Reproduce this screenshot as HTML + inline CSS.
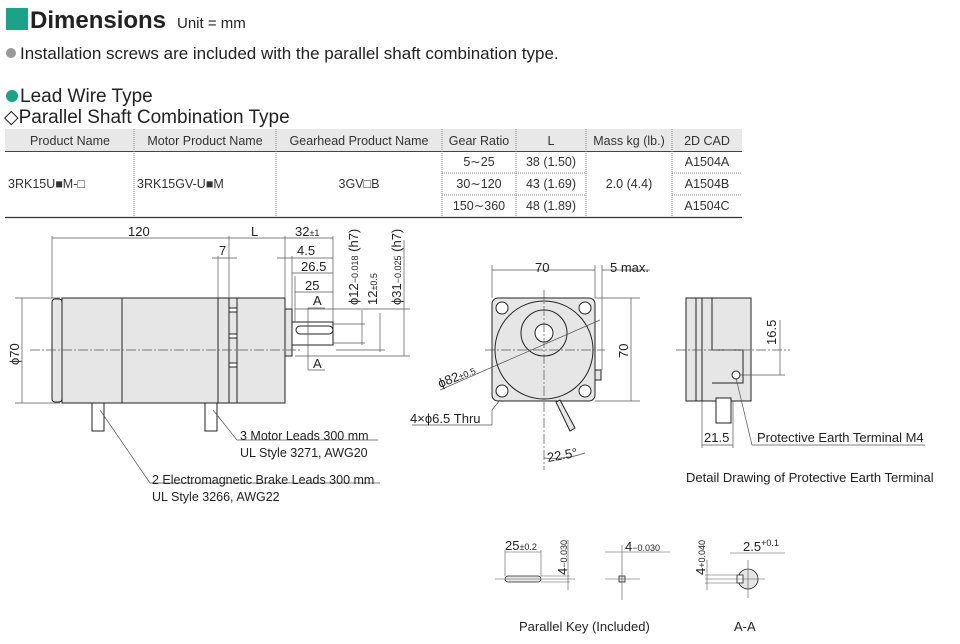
<!DOCTYPE html>
<html><head><meta charset="utf-8"><style>
body{margin:0;background:#fff}
svg{display:block;font-family:"Liberation Sans",sans-serif}
</style></head><body>
<svg width="960" height="644" viewBox="0 0 960 644" xmlns="http://www.w3.org/2000/svg">
<rect x="6" y="8" width="22" height="22" fill="#1aa386"/>
<text x="30" y="28" font-size="24" font-weight="bold" fill="#222">Dimensions</text>
<text x="177" y="28" font-size="15" fill="#222">Unit = mm</text>
<circle cx="11" cy="53" r="5" fill="#999"/>
<text x="20" y="59" font-size="17" fill="#222">Installation screws are included with the parallel shaft combination type.</text>
<circle cx="12" cy="96" r="6" fill="#1aa386"/>
<text x="20" y="102" font-size="19" fill="#222">Lead Wire Type</text>
<text x="4" y="123" font-size="19" fill="#222">◇Parallel Shaft Combination Type</text>
<!-- table -->
<rect x="5" y="129" width="737" height="22" fill="#e8e8e8"/>
<line x1="5" y1="151.5" x2="742" y2="151.5" stroke="#444"/>
<line x1="5" y1="217.5" x2="742" y2="217.5" stroke="#333" stroke-width="1.2"/>
<g stroke="#888" stroke-dasharray="1,1">
<line x1="134" y1="129" x2="134" y2="217"/><line x1="276" y1="129" x2="276" y2="217"/>
<line x1="442" y1="129" x2="442" y2="217"/><line x1="516" y1="129" x2="516" y2="217"/>
<line x1="586" y1="129" x2="586" y2="217"/><line x1="672" y1="129" x2="672" y2="217"/>
<line x1="442" y1="173" x2="586" y2="173"/><line x1="442" y1="195" x2="586" y2="195"/>
<line x1="672" y1="173" x2="742" y2="173"/><line x1="672" y1="195" x2="742" y2="195"/>
</g>
<g font-size="12.5" fill="#333" text-anchor="middle">
<text x="70" y="145">Product Name</text><text x="205" y="145">Motor Product Name</text>
<text x="359" y="145">Gearhead Product Name</text><text x="479" y="145">Gear Ratio</text>
<text x="551" y="145">L</text><text x="629" y="145">Mass kg (lb.)</text><text x="707" y="145">2D CAD</text>
<text x="479" y="166">5∼25</text><text x="479" y="188">30∼120</text><text x="479" y="210">150∼360</text>
<text x="551" y="166">38 (1.50)</text><text x="551" y="188">43 (1.69)</text><text x="551" y="210">48 (1.89)</text>
<text x="629" y="188">2.0 (4.4)</text>
<text x="707" y="166">A1504A</text><text x="707" y="188">A1504B</text><text x="707" y="210">A1504C</text>
<text x="359" y="188">3GV□B</text>
</g>
<g font-size="12.5" fill="#333">
<text x="8" y="188">3RK15U■M-□</text><text x="137" y="188">3RK15GV-U■M</text>
</g>
<!-- side view motor -->
<g stroke="#222" stroke-width="1" fill="#e6e6e6">
<rect x="52" y="299" width="10" height="103" rx="3"/>
<rect x="62" y="298" width="223" height="105"/>
<line x1="122" y1="298" x2="122" y2="403"/>
<line x1="218" y1="298" x2="218" y2="403"/>
<line x1="229" y1="298" x2="229" y2="403"/>
<line x1="237" y1="298" x2="237" y2="403"/>
<rect x="285" y="309" width="7" height="47"/>
<rect x="292" y="322" width="41" height="23" fill="#fff"/>
<rect x="296" y="326" width="37" height="8" rx="4" fill="#fff"/>
<rect x="229" y="308" width="8" height="4" fill="#fff"/>
<rect x="229" y="334" width="8" height="4" fill="#fff"/>
<rect x="229" y="363" width="8" height="4" fill="#fff"/>
<rect x="92" y="403" width="12" height="28" fill="#fff"/>
<rect x="205" y="403" width="12" height="28" fill="#fff"/>
</g>
<g stroke="#555" stroke-width="0.7" fill="none">
<line x1="30" y1="350" x2="300" y2="350" stroke-dasharray="10,2,2,2"/>
<line x1="52" y1="236" x2="52" y2="298"/><line x1="229" y1="236" x2="229" y2="298"/>
<line x1="285" y1="236" x2="285" y2="298"/><line x1="333" y1="236" x2="333" y2="322"/>
<line x1="218" y1="256" x2="218" y2="298"/>
<line x1="52" y1="238" x2="333" y2="238"/>
<line x1="212" y1="258" x2="237" y2="258"/>
<line x1="277" y1="258" x2="333" y2="258"/>
<line x1="292" y1="273" x2="333" y2="273"/>
<line x1="295" y1="292" x2="333" y2="292"/>
<line x1="292" y1="256" x2="292" y2="309"/><line x1="295" y1="276" x2="295" y2="322"/>
<line x1="15" y1="298" x2="60" y2="298"/><line x1="15" y1="403" x2="60" y2="403"/>
<line x1="22" y1="298" x2="22" y2="403"/>
<line x1="308" y1="308" x2="308" y2="370"/>
<line x1="308" y1="308" x2="325" y2="308"/><line x1="308" y1="370" x2="325" y2="370"/>
<line x1="333" y1="324" x2="365" y2="324"/><line x1="333" y1="343" x2="365" y2="343"/>
<line x1="362" y1="310" x2="362" y2="345"/>
<line x1="336" y1="350" x2="385" y2="350"/><line x1="380" y1="313" x2="380" y2="352"/>
<line x1="295" y1="309" x2="410" y2="309"/><line x1="295" y1="356" x2="410" y2="356"/>
<line x1="404" y1="240" x2="404" y2="356"/>
<line x1="100" y1="410" x2="150" y2="483"/><line x1="150" y1="483" x2="380" y2="483"/>
<line x1="213" y1="410" x2="237" y2="440"/><line x1="237" y1="440" x2="378" y2="440"/>
</g>
<g font-size="13" fill="#222">
<text x="128" y="236">120</text><text x="251" y="236">L</text>
<text x="295" y="236">32<tspan font-size="9">±1</tspan></text>
<text x="219" y="255">7</text><text x="297" y="255">4.5</text>
<text x="301" y="271">26.5</text><text x="305" y="290">25</text>
<text x="313" y="305">A</text><text x="313" y="368">A</text>
<text transform="translate(19,365) rotate(-90)">ϕ70</text>
<text transform="translate(358,305) rotate(-90)">ϕ12<tspan font-size="9">−0.018</tspan> (h7)</text>
<text transform="translate(377,305) rotate(-90)">12<tspan font-size="9">±0.5</tspan></text>
<text transform="translate(401,305) rotate(-90)">ϕ31<tspan font-size="9">−0.025</tspan> (h7)</text>
<text x="240" y="440" font-size="12.5">3 Motor Leads 300 mm</text>
<text x="240" y="457" font-size="12.5">UL Style 3271, AWG20</text>
<text x="152" y="484" font-size="12.5">2 Electromagnetic Brake Leads 300 mm</text>
<text x="152" y="501" font-size="12.5">UL Style 3266, AWG22</text>
</g>
<!-- front view -->
<g stroke="#222" stroke-width="1" fill="#e6e6e6">
<rect x="492" y="298" width="103" height="103" rx="6"/>
<circle cx="544" cy="350" r="49"/>
<circle cx="544" cy="333" r="23"/>
<circle cx="544" cy="333" r="9" fill="#fff"/>
<circle cx="502" cy="308" r="6" fill="#fff"/><circle cx="585" cy="308" r="6" fill="#fff"/>
<circle cx="502" cy="391" r="6" fill="#fff"/><circle cx="585" cy="391" r="6" fill="#fff"/>
<rect x="595" y="370" width="6" height="10"/>
<path d="M560 400 L575 428 L570 431 L556 402 Z"/>
</g>
<g stroke="#555" stroke-width="0.7" fill="none">
<line x1="544" y1="290" x2="544" y2="470" stroke-dasharray="10,2,2,2"/>
<line x1="485" y1="350" x2="605" y2="350" stroke-dasharray="10,2,2,2"/>
<line x1="492" y1="270" x2="595" y2="270"/><line x1="492" y1="265" x2="492" y2="298"/>
<line x1="595" y1="265" x2="595" y2="298"/><line x1="602" y1="265" x2="602" y2="370"/>
<line x1="602" y1="270" x2="650" y2="270"/>
<line x1="595" y1="298" x2="640" y2="298"/><line x1="595" y1="401" x2="640" y2="401"/>
<line x1="631" y1="298" x2="631" y2="401"/>
<line x1="440" y1="390" x2="600" y2="320"/>
<line x1="492" y1="410" x2="500" y2="400"/><line x1="492" y1="410" x2="492" y2="425"/><line x1="412" y1="425" x2="492" y2="425"/>
<path d="M544 458 Q565 460 585 453"/>
</g>
<g font-size="13" fill="#222">
<text x="535" y="272">70</text><text x="610" y="272">5 max.</text>
<text transform="translate(628,358) rotate(-90)">70</text>
<text transform="translate(440,388) rotate(-22)">ϕ82<tspan font-size="9">±0.5</tspan></text>
<text x="410" y="423">4×ϕ6.5 Thru</text>
<text transform="translate(548,462) rotate(-10)">22.5°</text>
</g>
<!-- earth side view -->
<g stroke="#222" stroke-width="1" fill="#e6e6e6">
<rect x="686" y="298" width="65" height="103"/>
<line x1="696" y1="298" x2="696" y2="401"/><line x1="702" y1="298" x2="702" y2="401"/>
<path d="M712 298 V350 H743 V383 H712" fill="none"/>
<circle cx="736" cy="375" r="4" fill="#fff"/>
<rect x="716" y="398" width="15" height="25" fill="#fff"/>
</g>
<g stroke="#555" stroke-width="0.7" fill="none">
<line x1="676" y1="350" x2="790" y2="350" stroke-dasharray="10,2,2,2"/>
<line x1="740" y1="375" x2="785" y2="375"/><line x1="780" y1="320" x2="780" y2="375"/>
<line x1="702" y1="401" x2="702" y2="448"/><line x1="733" y1="401" x2="733" y2="448"/>
<line x1="702" y1="445" x2="733" y2="445"/>
<line x1="736" y1="378" x2="752" y2="445"/><line x1="752" y1="445" x2="925" y2="445"/>
</g>
<g font-size="13" fill="#222">
<text transform="translate(776,345) rotate(-90)">16.5</text>
<text x="704" y="442">21.5</text>
<text x="757" y="442">Protective Earth Terminal M4</text>
<text x="686" y="482">Detail Drawing of Protective Earth Terminal</text>
</g>
<!-- key -->
<g stroke="#222" stroke-width="0.8" fill="#e6e6e6">
<rect x="505" y="576" width="36" height="6" rx="3"/>
<rect x="619" y="576" width="6" height="6"/>
<circle cx="748" cy="579" r="10"/>
<rect x="737" y="575" width="6" height="8" fill="#fff"/>
</g>
<g stroke="#555" stroke-width="0.6" fill="none">
<line x1="495" y1="579" x2="575" y2="579"/><line x1="505" y1="550" x2="505" y2="576"/><line x1="541" y1="550" x2="541" y2="576"/>
<line x1="505" y1="552" x2="541" y2="552"/><line x1="541" y1="576" x2="570" y2="576"/><line x1="541" y1="582" x2="570" y2="582"/>
<line x1="568" y1="540" x2="568" y2="590"/>
<line x1="605" y1="579" x2="640" y2="579"/><line x1="622" y1="545" x2="622" y2="600"/>
<line x1="605" y1="552" x2="670" y2="552"/>
<line x1="705" y1="579" x2="765" y2="579"/><line x1="748" y1="560" x2="748" y2="598"/>
<line x1="705" y1="575" x2="740" y2="575"/><line x1="705" y1="583" x2="740" y2="583"/>
<line x1="707" y1="560" x2="707" y2="590"/>
<line x1="730" y1="553" x2="785" y2="553"/>
</g>
<g font-size="13" fill="#222">
<text x="505" y="550">25<tspan font-size="9">±0.2</tspan></text>
<text transform="translate(567,575) rotate(-90)">4<tspan font-size="9">−0.030</tspan></text>
<text x="625" y="551">4<tspan font-size="9">−0.030</tspan></text>
<text transform="translate(705,575) rotate(-90)">4<tspan font-size="9">+0.040</tspan></text>
<text x="743" y="551">2.5<tspan font-size="9" dy="-5">+0.1</tspan></text>
<text x="519" y="631">Parallel Key (Included)</text>
<text x="734" y="631">A-A</text>
</g>
</svg>
</body></html>
